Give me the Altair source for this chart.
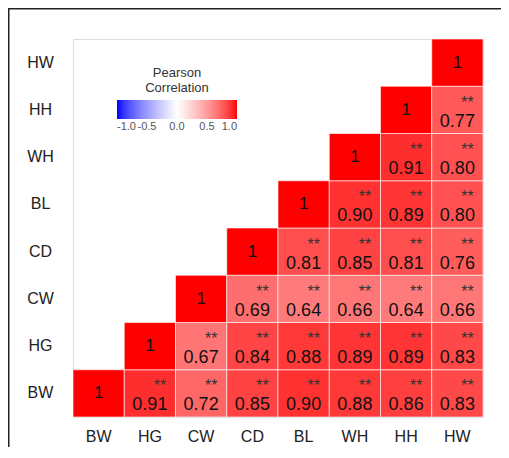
import altair as alt
import pandas as pd

variables = ["BW", "HG", "CW", "CD", "BL", "WH", "HH", "HW"]
# Upper-triangle correlations: each row starts at its own diagonal
row_BW = [1.00, 0.91, 0.72, 0.85, 0.90, 0.88, 0.86, 0.83]
row_HG = [1.00, 0.67, 0.84, 0.88, 0.89, 0.89, 0.83]
row_CW = [1.00, 0.69, 0.64, 0.66, 0.64, 0.66]
row_CD = [1.00, 0.81, 0.85, 0.81, 0.76]
row_BL = [1.00, 0.90, 0.89, 0.80]
row_WH = [1.00, 0.91, 0.80]
row_HH = [1.00, 0.77]
row_HW = [1.00]
rows = [row_BW, row_HG, row_CW, row_CD, row_BL, row_WH, row_HH, row_HW]
sig_mark = "**"
legend_values = [-1.0, -0.5, 0.0, 0.5, 1.0]

recs = []
for i, row in enumerate(rows):
    for k, v in enumerate(row):
        j = i + k
        diag = (i == j)
        recs.append({
            "x": variables[j],
            "y": variables[i],
            "r": v,
            "diag": "1" if diag else "",
            "val": "" if diag else f"{v:.2f}",
            "sig": "" if diag else sig_mark,
        })
df = pd.DataFrame(recs)

FONT = "Liberation Sans"

xenc = alt.X("x:N", sort=variables, title=None,
             scale=alt.Scale(paddingInner=0, paddingOuter=0),
             axis=alt.Axis(domain=False, ticks=False, grid=False, labelAngle=0, labelFontSize=16,
                           labelPadding=11, labelColor="#222", labelFont=FONT))
yenc = alt.Y("y:N", sort=variables[::-1], title=None,
             scale=alt.Scale(paddingInner=0, paddingOuter=0),
             axis=alt.Axis(domain=False, ticks=False, grid=False, labelFontSize=16, labelAlign="center",
                           labelPadding=33, labelColor="#222", labelFont=FONT))

base = alt.Chart(df)

tiles = base.mark_rect(stroke="white", strokeWidth=0.6).encode(
    x=xenc, y=yenc,
    color=alt.Color("r:Q",
                    scale=alt.Scale(domain=[-1, 0, 1], range=["blue", "white", "red"],
                                    interpolate=alt.ScaleInterpolateParams(type="rgb", gamma=1.4)),
                    legend=alt.Legend(title=["Pearson", "Correlation"], orient="none",
                                      direction="horizontal", legendX=44, legendY=28,
                                      gradientLength=120, gradientThickness=19,
                                      values=legend_values, format=".1f", labelOverlap=False,
                                      labelExpr="replace(datum.label, '\u2212', '-')",
                                      titleFontSize=13, titleFontWeight="normal",
                                      titleAlign="center", titleAnchor="middle",
                                      titleFont=FONT, labelFont=FONT, labelFontSize=11,
                                      labelColor="#555", titleColor="#333",
                                      gradientStrokeWidth=0)),
)

one_text = base.mark_text(fontSize=17, font=FONT, color="#111").encode(
    x=xenc, y=yenc, text="diag:N")
val_text = base.mark_text(fontSize=18, dy=12, font=FONT, color="#111").encode(
    x=xenc, y=yenc, text="val:N")
sig_text = base.mark_text(fontSize=16, dx=10, dy=-7, font=FONT, color="#333").encode(
    x=xenc, y=yenc, text="sig:N")

# Figure frame: thin filled bars for its top and left edges only
frame_src = alt.Chart(alt.Data(values=[{}]))
frame_top = frame_src.mark_rect(color="#222", strokeWidth=0).encode(
    x=alt.value(-65), x2=alt.value(440), y=alt.value(-31), y2=alt.value(-29.5))
frame_left = frame_src.mark_rect(color="#222", strokeWidth=0).encode(
    x=alt.value(-65), x2=alt.value(-63.5), y=alt.value(-31), y2=alt.value(440))

chart = alt.layer(tiles, one_text, val_text, sig_text, frame_top, frame_left).properties(
    width=410, height=378,
    padding={"left": 65, "top": 31, "right": 18, "bottom": 30},
    autosize=alt.AutoSizeParams(type="none"),
).configure_view(strokeWidth=0, stroke="transparent").configure(background="white")

chart.save("out.html", embed_options={"renderer": "svg", "actions": False})
